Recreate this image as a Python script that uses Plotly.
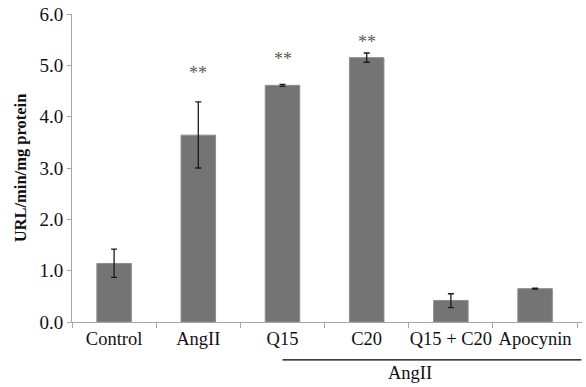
import plotly.graph_objects as go

categories = ["Control", "AngII", "Q15", "C20", "Q15 + C20", "Apocynin"]
values = [1.14, 3.64, 4.61, 5.15, 0.42, 0.65]
err_plus = [0.28, 0.65, 0.02, 0.09, 0.13, 0.01]
err_minus = [0.27, 0.64, 0.02, 0.09, 0.14, 0.01]
sig_labels = ["", "**", "**", "**", "", ""]
sig_y = [None, 4.85, 5.12, 5.46, None, None]
y_ticks = [0, 1, 2, 3, 4, 5, 6]
y_tick_text = ["0.0", "1.0", "2.0", "3.0", "4.0", "5.0", "6.0"]
group_label = "AngII"
group_start = "Q15"

serif = "Liberation Serif, Times New Roman, serif"

fig = go.Figure()
fig.add_trace(go.Bar(
    x=categories, y=values,
    marker=dict(color="#747474", line=dict(color="#8e8e8e", width=1)),
    width=0.41,
    error_y=dict(type="data", symmetric=False, array=err_plus, arrayminus=err_minus,
                 color="#1a1a1a", thickness=1.3, width=3),
))

for c, lab, yy in zip(categories, sig_labels, sig_y):
    if lab:
        fig.add_annotation(x=c, y=yy, text=lab, showarrow=False, xref="x", yref="y",
                           font=dict(family=serif, size=18, color="#5a5a5a"))

x0 = categories.index(group_start)
fig.add_shape(type="line", xref="x", yref="paper", x0=x0, x1=5.55, y0=-0.123, y1=-0.123,
              line=dict(color="black", width=1.2))
fig.add_annotation(xref="paper", yref="paper", x=0.71, y=-0.128, text=group_label,
                   showarrow=False, yanchor="top",
                   font=dict(family=serif, size=18.5, color="#111111"))

fig.update_layout(
    width=586, height=387,
    margin=dict(l=72, r=4, t=14, b=65),
    plot_bgcolor="white", paper_bgcolor="white",
    showlegend=False,
    font=dict(family=serif, size=17, color="#111111"),
    bargap=0.59,
)
fig.update_xaxes(
    showline=True, linecolor="#a6a6a6", linewidth=1,
    ticks="outside", tickson="boundaries", ticklen=5, tickcolor="#a6a6a6",
    tickangle=0,
    showgrid=False, tickfont=dict(family=serif, size=18.5, color="#111111"),
)
fig.update_yaxes(
    range=[0, 6], tickvals=y_ticks, ticktext=y_tick_text,
    showline=True, linecolor="#a6a6a6", linewidth=1,
    ticks="outside", ticklen=4, tickcolor="#a6a6a6",
    showgrid=False, zeroline=False,
    tickfont=dict(family=serif, size=19, color="#111111"),
    title=dict(text="<b>URL/min/mg protein</b>", font=dict(family=serif, size=16.5, color="#111111"), standoff=8),
)

fig.write_html("out.html", config={"displayModeBar": False},
               post_script="document.body.style.margin='0px';")
